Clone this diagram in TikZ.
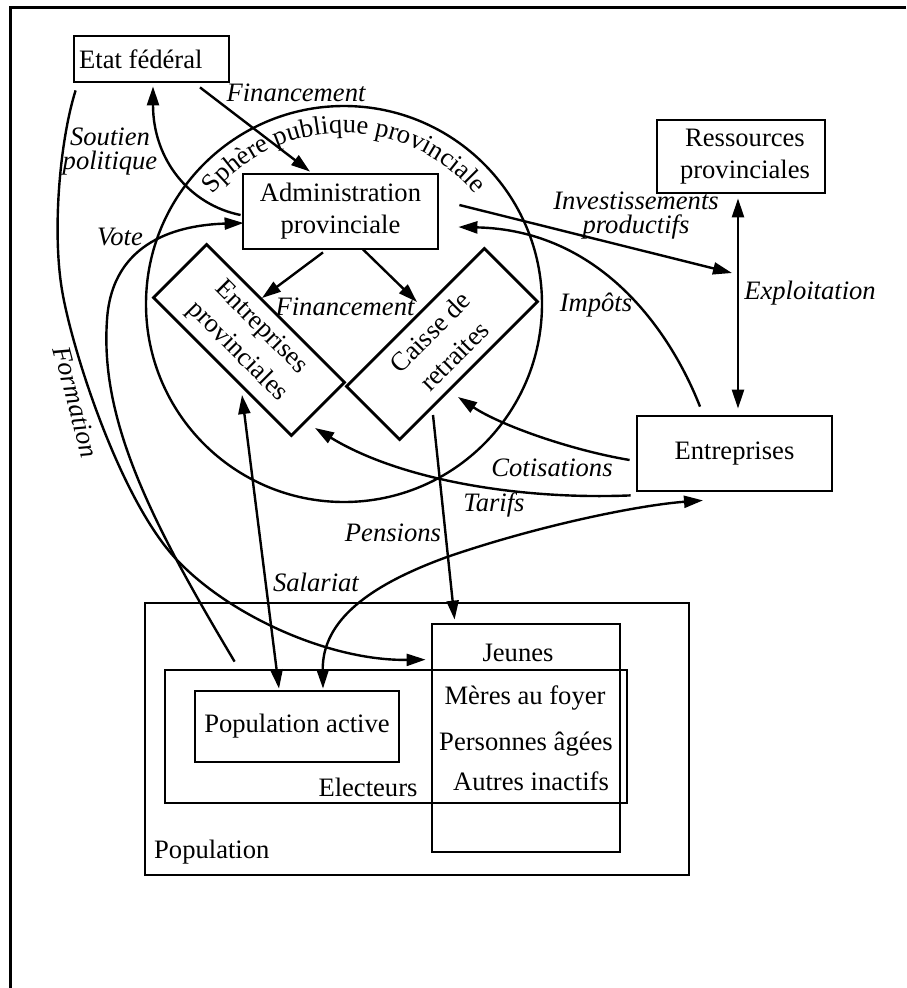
\documentclass[tikz,border=0pt]{standalone}
\usepackage{fontspec}
\setmainfont{Liberation Serif}
\usetikzlibrary{arrows.meta,calc,decorations.text}
\begin{document}
\begin{tikzpicture}[x=1pt,y=-1pt,
  font=\fontsize{26.6}{32}\selectfont,
  box/.style={draw,line width=2.8pt,inner sep=0pt,align=center},
  tiltbox/.style={box,minimum width=195pt,minimum height=75pt,font=\fontsize{26.6}{34}\selectfont},
  lbl/.style={font=\fontsize{26.6}{24}\selectfont\itshape,inner sep=0pt,align=center},
  plain/.style={inner sep=0pt},
  conn/.style={line width=2.4pt,-{Triangle[length=19pt,width=12pt]}},
  both/.style={line width=2.4pt,{Triangle[length=19pt,width=12pt]}-{Triangle[length=19pt,width=12pt]}},
]
\useasboundingbox (0,0) rectangle (906,988);
\draw[line width=3pt] (906,7) -- (10,7) -- (10,988);

% main nodes
\node[box,minimum width=155pt,minimum height=46pt] (etat) at (151.5,59) {};
\node[plain,anchor=west] (etatT) at (79,59) {Etat fédéral};
\node[box,minimum width=195pt,minimum height=75pt] (admin) at (340.5,211.5) {Administration\\provinciale};
\node[box,minimum width=168pt,minimum height=73pt] (res) at (741,156.5) {};
\node[plain,align=center] (resT) at (745,156.5) {Ressources\\provinciales};
\node[box,minimum width=195pt,minimum height=75pt] (entr) at (734.5,453.5) {Entreprises};
\node[tiltbox,rotate=-45] (eprov) at (249,340) {Entreprises\\provinciales};
\node[tiltbox,rotate=45] (caisse) at (442,344) {Caisse de\\retraites};

% sphere
\node[draw,circle,line width=2.4pt,minimum size=396pt,inner sep=0pt] (sphere) at (344,304) {};
\path[decorate,decoration={text along path,text align=center,
  text={|\fontsize{26.6}{32}\selectfont|Sphère publique provinciale}}]
  (344,304) ++(200:171) arc[start angle=200,end angle=340,radius=171];

% population
\node[box,minimum width=544pt,minimum height=272pt] (popu) at (417,739) {};
\node[box,minimum width=188pt,minimum height=228pt] (jeunes) at (526,738) {};
\node[box,minimum width=462pt,minimum height=133pt] (elect) at (396,736.5) {};
\node[box,minimum width=204pt,minimum height=71pt] (pact) at (297,726.5) {Population active};
\node[plain,anchor=west] (popuT) at (154,852) {Population};
\node[plain] (jeunesT) at (518,653) {Jeunes};
\node[plain] (meresT) at (525,698) {Mères au foyer};
\node[plain] (agesT) at (526,744) {Personnes âgées};
\node[plain] (autresT) at (531,781) {Autres inactifs};
\node[plain] (electT) at (368,787) {Electeurs};

% connectors
\draw[conn] ($(etat.south)+(48.5,4)$) -- ($(admin.north)+(-30.5,-1)$);
\draw[conn] ($(admin.west)+(-1,3.5)$) .. controls (190,205) and (153,160) .. ($(etat.south)+(1.5,3)$);
\draw[conn] ($(elect.north west)+(71,-7)$) .. controls (150,520) and (100,420) .. (107,320)
   .. controls (112,240) and (180,225) .. ($(admin.west)+(2,11.5)$);
\draw[conn] ($(etat.south west)+(3,7)$) .. controls (60,140) and (52,230) .. (62,290)
   .. controls (72,350) and (120,500) .. (177,560)
   .. controls (230,616) and (330,661) .. ($(jeunes.north west)+(-5,37)$);
\coordinate (invEnd) at (732,273);
\draw[conn] ($(admin.east)+(20,-6.5)$) -- (invEnd);
\draw[conn] ($(entr.north)+(-34.5,-8)$) .. controls (670,330) and (600,230) .. ($(admin.east)+(19,15.5)$);
\draw[both] ($(res.south)+(-3,4)$) -- ($(entr.north)+(3.5,-6)$);
\draw[conn] ($(entr.west)+(-6,6.5)$) .. controls (570,450) and (500,425) .. ($(caisse.center)+(16,53)$);
\draw[conn] ($(entr.south west)+(-5,3)$) .. controls (520,500) and (400,480) .. ($(eprov.center)+(66,88)$);
\draw[conn] ($(caisse.center)+(-9,71)$) -- ($(jeunes.north west)+(24,-3)$);
\draw[both] ($(eprov.center)+(-7,55)$) -- ($(pact.north)+(-18,-1)$);
\draw[both] ($(pact.north)+(26,-1)$) .. controls (322,620) and (370,585) .. (447,557)
   .. controls (540,525) and (640,505) .. ($(entr.south)+(-31.5,8)$);
\draw[conn] ($(admin.south)+(-17.5,2)$) -- ($(eprov.center)+(13,-42)$);
\draw[conn] ($(admin.south)+(22.5,-1)$) -- ($(caisse.center)+(-25,-42)$);

% labels
\node[lbl] (lFin1) at (296,93) {Financement};
\node[lbl] (lSout) at (110,152) {Soutien\\politique};
\node[lbl] (lVote) at (120,237) {Vote};
\node[lbl,rotate=-75] (lForm) at (76,402) {Formation};
\node[lbl] (lInv) at (636,216) {Investissements\\productifs};
\node[lbl] (lImp) at (596,305) {Impôts};
\node[lbl] (lExp) at (810,293) {Exploitation};
\node[lbl] (lCot) at (552,468) {Cotisations};
\node[lbl] (lTar) at (494,505) {Tarifs};
\node[lbl] (lPen) at (393,533) {Pensions};
\node[lbl] (lSal) at (316,582) {Salariat};
\node[lbl] (lFin2) at (345,307) {Financement};
\end{tikzpicture}
\end{document}
